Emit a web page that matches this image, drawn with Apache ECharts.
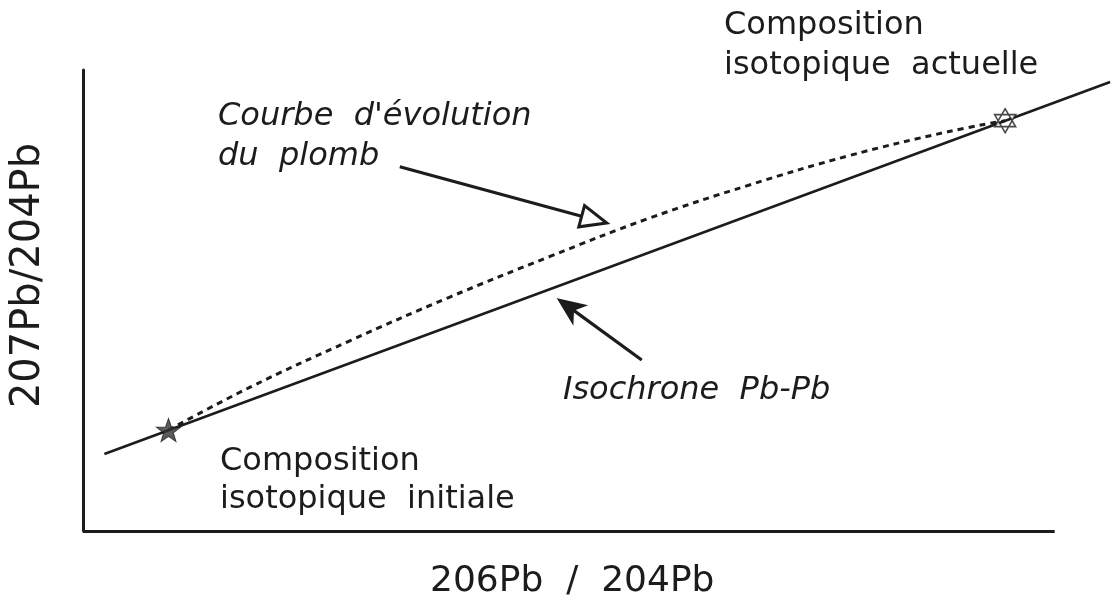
<!DOCTYPE html>
<html>
<head>
<meta charset="utf-8">
<script src="https://cdn.jsdelivr.net/npm/echarts@6/dist/echarts.min.js"></script>
<style>
  html, body { margin: 0; padding: 0; background: #fff; }
  #chart { width: 1113px; height: 601px; }
</style>
</head>
<body>
<div id="chart"></div>
<script>
// axes (arbitrary units, no ticks in the original)
var xRange = [0, 106];
var xAxisEnd = 100;   // the drawn x axis stops here, the isochrone runs past it
var yRange = [0, 100];

// isochrone Pb-Pb (straight line)
var isochroneX = [2.2, 105.7];
var isochroneY = [16.7, 97.4];

// courbe d'évolution du plomb (dashed)
var evolutionX = [8.8, 17.2, 27.4, 37.7, 48.0, 58.2, 68.5, 78.8, 89.0, 94.9];
var evolutionY = [21.9, 31.2, 41.2, 50.7, 59.5, 67.8, 75.0, 81.4, 86.6, 89.0];

// compositions
var initialPoint = [8.8, 21.9];
var currentPoint = [94.9, 89.0];

// arrows: [fromX, fromY, toX, toY, hollow]
var arrowEvolution = [32.6, 79.0, 53.9, 66.8, 1];
var arrowIsochrone = [57.5, 37.1, 48.9, 50.3, 0];

var ink = '#1c1c1c';
var font = '"DejaVu Sans", sans-serif';

function pairs(xs, ys) {
    var out = [];
    for (var i = 0; i < xs.length; i++) out.push([xs[i], ys[i]]);
    return out;
}

var starPath = 'path://M0,-10L2.35,-3.24L9.51,-3.09L3.8,1.24L5.88,8.09L0,4L-5.88,8.09L-3.8,1.24L-9.51,-3.09L-2.35,-3.24Z';
var hexPath = 'path://M0,-10L8.66,5L-8.66,5ZM0,10L8.66,-5L-8.66,-5Z';

function renderArrow(params, api) {
    var p0 = api.coord([api.value(0), api.value(1)]);
    var p1 = api.coord([api.value(2), api.value(3)]);
    var hollow = api.value(4) === 1;
    var dx = p1[0] - p0[0], dy = p1[1] - p0[1];
    var len = Math.sqrt(dx * dx + dy * dy);
    var ux = dx / len, uy = dy / len;
    var nx = -uy, ny = ux;
    var headLen = 26, headW = 11;
    var bx = p1[0] - ux * headLen, by = p1[1] - uy * headLen;
    var left = [bx + nx * headW, by + ny * headW];
    var right = [bx - nx * headW, by - ny * headW];
    var points, shaftEnd;
    if (hollow) {
        points = [p1, left, right];
        shaftEnd = [bx, by];
    } else {
        var inner = [p1[0] - ux * headLen * 0.72, p1[1] - uy * headLen * 0.72];
        points = [p1, left, inner, right];
        shaftEnd = inner;
    }
    return {
        type: 'group',
        children: [{
            type: 'line',
            shape: { x1: p0[0], y1: p0[1], x2: shaftEnd[0], y2: shaftEnd[1] },
            style: { stroke: ink, lineWidth: 3.2 }
        }, {
            type: 'polygon',
            shape: { points: points },
            style: { fill: hollow ? '#fff' : ink, stroke: ink, lineWidth: hollow ? 3 : 1.5, lineJoin: 'miter' }
        }]
    };
}

var option = {
    backgroundColor: '#fff',
    animation: false,
    grid: { left: 83, top: 70, width: 1032.4, height: 461 },
    xAxis: {
        type: 'value', min: xRange[0], max: xRange[1],
        axisLine: { show: false },
        axisTick: { show: false },
        axisLabel: { show: false },
        splitLine: { show: false }
    },
    yAxis: {
        type: 'value', min: yRange[0], max: yRange[1],
        name: '207Pb/204Pb',
        nameLocation: 'middle',
        nameGap: 34,
        nameTextStyle: { fontFamily: font, fontSize: 40, color: ink, padding: [0, 0, 0, 50] },
        axisLine: { show: true, lineStyle: { color: ink, width: 3 } },
        axisTick: { show: false },
        axisLabel: { show: false },
        splitLine: { show: false }
    },
    series: [{
        name: 'Isochrone Pb-Pb',
        type: 'line',
        data: pairs(isochroneX, isochroneY),
        symbol: 'none',
        lineStyle: { color: ink, width: 2.6 },
        markLine: {
            silent: true,
            symbol: 'none',
            lineStyle: { color: ink, width: 3, type: 'solid' },
            label: { show: false },
            data: [[{ coord: [xRange[0], yRange[0]] }, { coord: [xAxisEnd, yRange[0]] }]]
        }
    }, {
        name: "Courbe d'évolution du plomb",
        type: 'line',
        data: pairs(evolutionX, evolutionY),
        smooth: 0.4,
        symbol: 'none',
        lineStyle: { color: ink, width: 3, type: [6, 5] }
    }, {
        name: 'Composition isotopique initiale',
        type: 'scatter',
        data: [initialPoint],
        symbol: starPath,
        symbolSize: [24, 23],
        itemStyle: { color: '#333', borderColor: ink, borderWidth: 1 },
        z: 5
    }, {
        name: 'Composition isotopique actuelle',
        type: 'scatter',
        data: [currentPoint],
        symbol: hexPath,
        symbolSize: [21, 24],
        itemStyle: { color: '#fff', borderColor: ink, borderWidth: 1.6 },
        z: 5
    }, {
        type: 'custom',
        renderItem: renderArrow,
        data: [arrowEvolution, arrowIsochrone],
        clip: false,
        z: 4
    }],
    graphic: [{
        type: 'text', left: 724, top: 6,
        style: { text: 'Composition\nisotopique  actuelle', font: '32px ' + font, fill: ink, lineHeight: 40 }
    }, {
        type: 'text', left: 218, top: 97,
        style: { text: "Courbe  d'évolution\ndu  plomb", font: 'italic 32px ' + font, fill: ink, lineHeight: 40 }
    }, {
        type: 'text', left: 563, top: 371,
        style: { text: 'Isochrone  Pb-Pb', font: 'italic 32px ' + font, fill: ink, lineHeight: 40 }
    }, {
        type: 'text', left: 220, top: 443,
        style: { text: 'Composition\nisotopique  initiale', font: '32px ' + font, fill: ink, lineHeight: 38 }
    }, {
        type: 'text', left: 430, top: 564,
        style: { text: '206Pb  /  204Pb', font: '36px ' + font, fill: ink }
    }]
};

var myChart = echarts.init(document.getElementById('chart'));
myChart.setOption(option);
</script>
</body>
</html>
